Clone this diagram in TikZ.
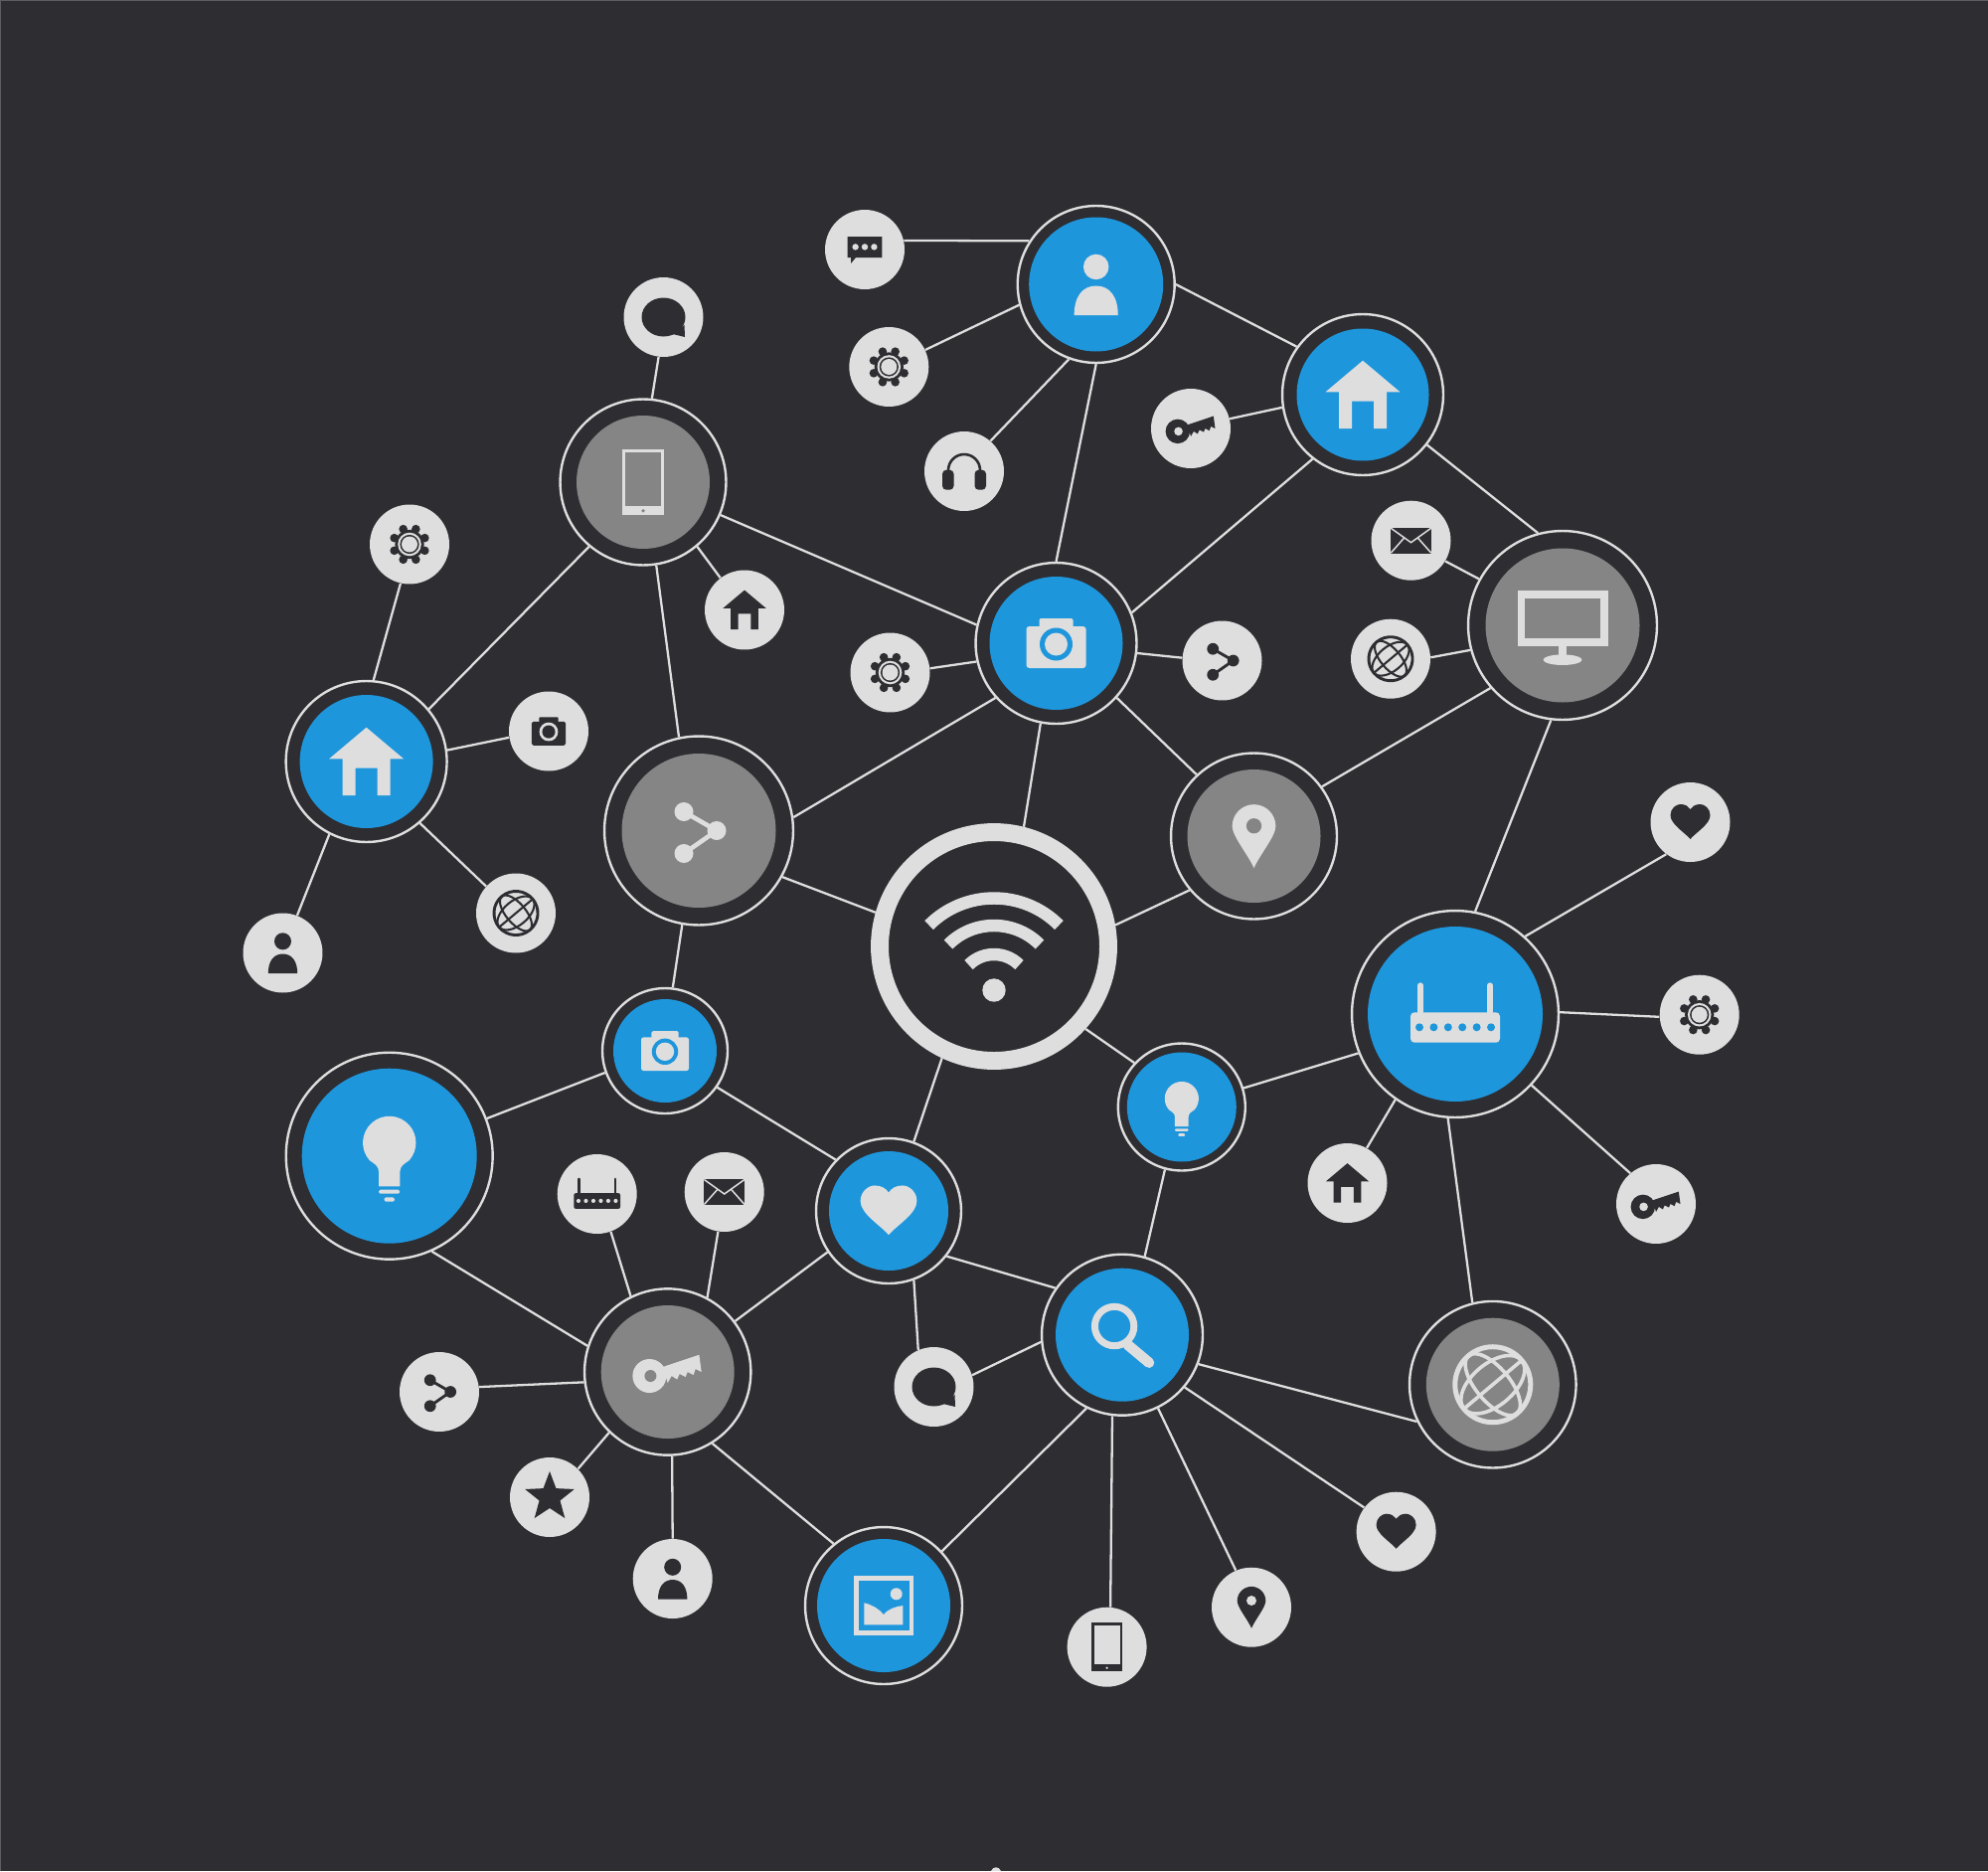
\documentclass[tikz,border=0pt]{standalone}
\usetikzlibrary{shapes.geometric}
\definecolor{ink}{HTML}{2D2D32}
\definecolor{lite}{HTML}{DEDEDE}
\definecolor{azure}{HTML}{1E96DC}
\definecolor{slate}{HTML}{858585}
\definecolor{edgeline}{HTML}{5E5E60}
\def\pxw{0.5669pt}
\tikzset{
  link/.style={draw=lite,line width=2.3*\pxw},
  leaf/.style={circle,fill=lite,inner sep=0pt,minimum size=1.6cm},
  hubring/.style={circle,draw=lite,fill=ink,line width=2.4*\pxw,inner sep=0pt},
  wifiring/.style={circle,draw=lite,fill=ink,line width=18*\pxw,inner sep=0pt,minimum size=4.6cm},
  glyph/.style={yscale=-1,scale=#1}
}
% nodes
\newcommand\leafnode[3]{\node[leaf] (#1) at (#2,#3) {};}
\newcommand\hubnode[6]{\node[hubring,minimum size={(#4-1)*0.04cm}] (#1) at (#2,#3) {};
  \fill[#6] (#2,#3) circle[radius=#5];}
% icons: {x}{y}{scale}{foreground}{background}; local y points up
\newcommand\icPerson[5]{\begin{scope}[shift={(#1,#2)},glyph=#3]
  \fill[#4] (0,11.7) circle[radius=8.5];
  \fill[#4] (-14.7,-20.7) .. controls (-14.7,-8) and (-9,-1) .. (0,-1) .. controls (9,-1) and (14.7,-8) .. (14.7,-20.7) -- cycle;
\end{scope}}
\newcommand\icHouse[5]{\begin{scope}[shift={(#1,#2)},glyph=#3]
  \fill[#4] (0,34.3) -- (37.5,2.7) -- (24,2.7) -- (24,-34) -- (11,-34) -- (11,-6.7) -- (-11,-6.7) -- (-11,-34) -- (-24,-34) -- (-24,2.7) -- (-37.5,2.7) -- cycle;
\end{scope}}
\newcommand\icCamera[5]{\begin{scope}[shift={(#1,#2)},glyph=#3]
  \fill[#4,rounded corners=#3*3*\pxw] (-30,-25) rectangle (30,17);
  \fill[#4,rounded corners=#3*2*\pxw] (-17,10) rectangle (17,25);
  \fill[#5] (0,-1) circle[radius=16.5];
  \fill[#4] (0,-1) circle[radius=11.5];
\end{scope}}
\newcommand\icGear[5]{\begin{scope}[shift={(#1,#2)},glyph=#3]
  \foreach \ang in {0,45,...,315} \fill[#4] (\ang+22.5:16.6) circle[radius=4.3];
  \fill[#4] (0,0) circle[radius=14.6];
  \fill[#5] (0,0) circle[radius=11.8];
  \fill[#4] (0,0) circle[radius=9.6];
  \fill[#5] (0,0) circle[radius=8];
\end{scope}}
\newcommand\icKey[7]{\begin{scope}[shift={(#1,#2)},glyph=#3]
  \fill[#4] (-18.3,-4) circle[radius=#6];
  \fill[#4] (-5,5) -- (31.7,17.3) -- (34,0) -- (28,3) -- (26,-3) -- (20,0) -- (18,-5) -- (12,-2) -- (9.5,-7.5) -- (4,-4) -- (0,-11) -- cycle;
  \fill[#5] (-17.3,-4) circle[radius=#7];
\end{scope}}
\newcommand\icShare[5]{\begin{scope}[shift={(#1,#2)},glyph=#3]
  \draw[#4,line width=#3*4.6*\pxw] (-15,19) -- (18,0) -- (-15,-23);
  \fill[#4] (-15,19) circle[radius=9.5];
  \fill[#4] (18,0) circle[radius=9.5];
  \fill[#4] (-15,-23) circle[radius=9.5];
\end{scope}}
\newcommand\icHeart[5]{\begin{scope}[shift={(#1,#2)},glyph=#3]
  \fill[#4] (0,-17) .. controls (-6,-10) and (-20,-2) .. (-20,7) .. controls (-20,14) and (-14,18) .. (-10,18) .. controls (-5,18) and (-2,16) .. (0,13) .. controls (2,16) and (5,18) .. (10,18) .. controls (14,18) and (20,14) .. (20,7) .. controls (20,-2) and (6,-10) .. (0,-17) -- cycle;
\end{scope}}
\newcommand\icPin[5]{\begin{scope}[shift={(#1,#2)},glyph=#3]
  \fill[#4] (0,-21) .. controls (-4,-12) and (-14.3,0) .. (-14.3,6.5) arc[start angle=180,end angle=0,radius=14.3] .. controls (14.3,0) and (4,-12) .. (0,-21) -- cycle;
  \fill[#5] (0,6.7) circle[radius=5];
\end{scope}}
\newcommand\icPhone[5]{\begin{scope}[shift={(#1,#2)},glyph=#3]
  \fill[#4] (-15.4,-24.3) rectangle (15.4,24.3);
  \fill[#5] (-12.9,-17.7) rectangle (12.9,22);
  \fill[#5] (0,-21) circle[radius=1.3];
\end{scope}}
\newcommand\icMonitor[5]{\begin{scope}[shift={(#1,#2)},glyph=#3]
  \fill[#4] (-45.5,-20.7) rectangle (45.5,34.7);
  \fill[#5] (-37.8,-12.7) rectangle (37.8,27.3);
  \fill[#4] (-3.7,-20.7) rectangle (3.7,-32);
  \fill[#4] (0,-34.7) ellipse[x radius=19.5,y radius=5.3];
\end{scope}}
\newcommand\icRouter[5]{\begin{scope}[shift={(#1,#2)},glyph=#3]
  \draw[#4,line width=#3*5.3*\pxw,line cap=round] (-35,2) -- (-35,29);
  \draw[#4,line width=#3*5.3*\pxw,line cap=round] (35,2) -- (35,29);
  \fill[#4,rounded corners=#3*4*\pxw] (-45,-28.7) rectangle (45,1.7);
  \foreach \dotx in {-36,-21.6,-7.2,7.2,21.6,36} \fill[#5] (\dotx,-13.3) circle[radius=4];
\end{scope}}
\newcommand\icMail[5]{\begin{scope}[shift={(#1,#2)},glyph=#3]
  \fill[#4] (-20.3,-13.2) rectangle (20.3,13.2);
  \draw[#5,line width=#3*1.5*\pxw] (-20.3,12.5) -- (0,-2) -- (20.3,12.5);
  \draw[#5,line width=#3*1.5*\pxw] (-20.3,-12.5) -- (-7,2.5);
  \draw[#5,line width=#3*1.5*\pxw] (20.3,-12.5) -- (7,2.5);
\end{scope}}
\newcommand\icGlobe[5]{\begin{scope}[shift={(#1,#2)},glyph=#3,rotate=-40]
  \draw[#4,line width=#3*5*\pxw] (0,0) circle[radius=38];
  \draw[#4,line width=#3*3.6*\pxw] (-38,0) -- (38,0);
  \draw[#4,line width=#3*3.6*\pxw] (0,0) ellipse[x radius=38,y radius=21];
  \draw[#4,line width=#3*3.6*\pxw] (0,0) ellipse[x radius=17,y radius=38];
\end{scope}}
\newcommand\icBulb[5]{\begin{scope}[shift={(#1,#2)},glyph=#3]
  \fill[#4] (-10.7,-30.7) -- (-10.7,-16) .. controls (-10.7,-10) and (-15,-8) .. (-19.8,-4.6) arc[start angle=222,end angle=-42,radius=26.7] .. controls (15,-8) and (10.7,-10) .. (10.7,-16) -- (10.7,-30.7) -- cycle;
  \fill[#4,rounded corners=#3*1.5*\pxw] (-10.5,-38) rectangle (10.5,-34);
  \fill[#4,rounded corners=#3*1.5*\pxw] (-5.2,-46) rectangle (5.2,-41.7);
\end{scope}}
\newcommand\icSearch[5]{\begin{scope}[shift={(#1,#2)},glyph=#3]
  \draw[#4,line width=#3*10.5*\pxw,line cap=round] (5.5,-10) -- (27,-28);
  \draw[#4,line width=#3*7*\pxw] (-7.9,8.7) circle[radius=19.7];
\end{scope}}
\newcommand\icImage[5]{\begin{scope}[shift={(#1,#2)},glyph=#3]
  \fill[#4] (-30,-29.7) rectangle (30,29.7);
  \fill[#5] (-25.5,-25.2) rectangle (25.5,25.2);
  \fill[#4] (12.7,11.7) circle[radius=6];
  \fill[#4] (-19.7,2.7) .. controls (-12,1) and (-5,-3) .. (0,-9) .. controls (5,-3) and (12,-1) .. (19.3,0) -- (19.3,-19.3) -- (-19.7,-19.3) -- cycle;
\end{scope}}
\newcommand\icDots[5]{\begin{scope}[shift={(#1,#2)},glyph=#3]
  \fill[#4] (-17.4,13) -- (17.4,13) -- (17.4,-8) -- (-9,-8) -- (-14,-14) -- (-14,-8) -- (-17.4,-8) -- cycle;
  \foreach \dotx in {-9.4,0,9.4} \fill[#5] (\dotx,2.6) circle[radius=3.2];
\end{scope}}
\newcommand\icRing[5]{\begin{scope}[shift={(#1,#2)},glyph=#3]
  \fill[#4] (0,0) ellipse[x radius=22,y radius=19.5];
  \fill[#4] (21,-8) -- (21.5,-20) -- (9,-17) -- cycle;
\end{scope}}
\newcommand\icPhones[5]{\begin{scope}[shift={(#1,#2)},glyph=#3]
  \draw[#4,line width=#3*2.6*\pxw] (-16,1) arc[start angle=180,end angle=0,radius=16];
  \fill[#4,rounded corners=#3*4*\pxw] (-22,-18.7) rectangle (-10.5,1.3);
  \fill[#4,rounded corners=#3*4*\pxw] (10.5,-18.7) rectangle (22,1.3);
\end{scope}}
\newcommand\icStar[5]{\begin{scope}[shift={(#1,#2)},glyph=#3]
  \fill[#4] (90:26) -- (126:11) -- (162:26) -- (198:11) -- (234:26) -- (270:11) -- (306:26) -- (342:11) -- (18:26) -- (54:11) -- cycle;
\end{scope}}
\newcommand\icWifi[2]{\begin{scope}[shift={(#1,#2)},glyph=1]
  \fill[lite] (0,-44) circle[radius=11.7];
  \foreach \rad in {36,65,92.5}
    \draw[lite,line width=12.5*\pxw] ([shift={(45:\rad)}]0,-44) arc[start angle=45,end angle=135,radius=\rad];
\end{scope}}
\begin{document}
\begin{tikzpicture}[x=0.02cm,y=-0.02cm]
\useasboundingbox (0,0) rectangle (2000,1882);
\fill[ink] (0,0) rectangle (2000,1882);
\draw[edgeline,line width=2.4*\pxw] (0,1882) -- (0,0) -- (2000,0);
\fill[lite] (997,1882) .. controls (999,1877) and (1005,1877) .. (1007,1882) -- cycle;
% hubs
\node[wifiring] (wifi) at (1000,952) {};
\hubnode{person}{1102.7}{286}{80}{67.5}{azure}
\hubnode{houseR}{1371}{397}{82}{66.5}{azure}
\hubnode{cam}{1062.5}{647}{82}{67}{azure}
\hubnode{monitor}{1572}{629}{96}{77.5}{slate}
\hubnode{pinhub}{1261.5}{841}{84.5}{67}{slate}
\hubnode{sharehub}{703}{835.5}{96}{77.5}{slate}
\hubnode{phonehub}{647}{485}{84.5}{67}{slate}
\hubnode{houseL}{368.6}{766}{82}{67}{azure}
\hubnode{camsm}{669}{1057}{64}{52}{azure}
\hubnode{bulbbig}{391.7}{1162.7}{105}{88}{azure}
\hubnode{bulbsm}{1188.8}{1113.5}{65}{55}{azure}
\hubnode{router}{1464}{1020}{105}{88}{azure}
\hubnode{hearthub}{894}{1218}{74}{60}{azure}
\hubnode{keyhub}{671.7}{1380}{84.7}{67}{slate}
\hubnode{imagehub}{889}{1615}{80}{67}{azure}
\hubnode{searchhub}{1129}{1342.7}{82}{67}{azure}
\hubnode{globehub}{1501.8}{1392.7}{84.8}{67}{slate}
% leaves
\leafnode{dotsA}{870}{251}
\leafnode{gearA}{894.3}{369}
\leafnode{phonesA}{970}{474}
\leafnode{keyA}{1198}{431}
\leafnode{mailA}{1419.5}{543.7}
\leafnode{globeA}{1399}{662.7}
\leafnode{shareA}{1229.5}{664.5}
\leafnode{gearB}{895.5}{676.5}
\leafnode{ringA}{667.5}{319}
\leafnode{gearC}{412}{547.5}
\leafnode{homeA}{749}{613.5}
\leafnode{camA}{552}{735.5}
\leafnode{globeB}{519}{918.5}
\leafnode{personA}{284.5}{958.5}
\leafnode{heartA}{1700.5}{827}
\leafnode{gearD}{1709.7}{1020.7}
\leafnode{keyB}{1666}{1211}
\leafnode{homeB}{1355.5}{1190}
\leafnode{routerA}{600.7}{1201}
\leafnode{mailB}{728.7}{1199}
\leafnode{ringB}{939.5}{1395}
\leafnode{personB}{676.7}{1588}
\leafnode{starA}{553}{1506}
\leafnode{shareB}{442}{1400}
\leafnode{heartB}{1404.6}{1540.7}
\leafnode{pinA}{1259}{1616.7}
\leafnode{phoneA}{1113.6}{1656.7}
% connectors
\draw[link] (dotsA.13) -- (person.147);
\draw[link] (gearA.25) -- (person.195);
\draw[link] (phonesA.49) -- (person.250);
\draw[link] (person.270) -- (cam.90);
\draw[link] (person.0) -- (houseR.144);
\draw[link] (keyA.14) -- (houseR.189);
\draw[link] (cam.22) -- (houseR.232);
\draw[link] (houseR.322) -- (monitor.105);
\draw[link] (mailA.329) -- (monitor.151);
\draw[link] (globeA.2) -- (monitor.195);
\draw[link] (cam.353) -- (shareA.176);
\draw[link] (gearB.6) -- (cam.193);
\draw[link] (phonehub.337) -- (cam.167);
\draw[link] (ringA.263) -- (phonehub.84);
\draw[link] (phonehub.310) -- (homeA.127);
\draw[link] (phonehub.279) -- (sharehub.102);
\draw[link] (phonehub.230) -- (houseL.40);
\draw[link] (gearC.257) -- (houseL.85);
\draw[link] (houseL.8) -- (camA.189);
\draw[link] (houseL.311) -- (globeB.138);
\draw[link] (houseL.243) -- (personA.69);
\draw[link] (sharehub.8) -- (cam.222);
\draw[link] (sharehub.331) -- (wifi.164);
\draw[link] (sharehub.260) -- (camsm.83);
\draw[link] (cam.259) -- (wifi.76);
\draw[link] (cam.318) -- (pinhub.133);
\draw[link] (pinhub.36) -- (monitor.221);
\draw[link] (wifi.10) -- (pinhub.220);
\draw[link] (monitor.263) -- (router.79);
\draw[link] (router.48) -- (heartA.233);
\draw[link] (router.1) -- (gearD.183);
\draw[link] (router.317) -- (keyB.130);
\draw[link] (router.235) -- (homeB.61);
\draw[link] (router.202) -- (bulbsm.17);
\draw[link] (router.266) -- (globehub.104);
\draw[link] (wifi.318) -- (bulbsm.137);
\draw[link] (wifi.245) -- (hearthub.70);
\draw[link] (bulbsm.255) -- (searchhub.74);
\draw[link] (camsm.200) -- (bulbbig.21);
\draw[link] (camsm.325) -- (hearthub.136);
\draw[link] (bulbbig.294) -- (keyhub.162);
\draw[link] (routerA.290) -- (keyhub.116);
\draw[link] (mailB.261) -- (keyhub.62);
\draw[link] (hearthub.214) -- (keyhub.37);
\draw[link] (hearthub.322) -- (searchhub.145);
\draw[link] (hearthub.290) -- (ringB.113);
\draw[link] (ringB.17) -- (searchhub.185);
\draw[link] (shareB.7) -- (keyhub.187);
\draw[link] (starA.45) -- (keyhub.226);
\draw[link] (personB.90) -- (keyhub.273);
\draw[link] (keyhub.302) -- (imagehub.129);
\draw[link] (imagehub.43) -- (searchhub.244);
\draw[link] (searchhub.263) -- (phoneA.85);
\draw[link] (searchhub.296) -- (pinA.113);
\draw[link] (searchhub.320) -- (heartB.143);
\draw[link] (searchhub.339) -- (globehub.206);
% icons
\icWifi{1000}{952}
\icPerson{1102.7}{286}{1.5}{lite}{azure}
\icHouse{1371}{397}{1}{lite}{azure}
\icCamera{1062.5}{647}{1}{lite}{azure}
\icMonitor{1572}{629}{1}{lite}{slate}
\icPin{1261.5}{841}{1.53}{lite}{slate}
\icShare{703}{835.5}{1}{lite}{slate}
\icPhone{647}{485}{1.37}{lite}{slate}
\icHouse{368.6}{766}{1}{lite}{azure}
\icCamera{669}{1057}{0.8}{lite}{azure}
\icBulb{391.7}{1162.7}{1}{lite}{azure}
\icBulb{1188.8}{1113.5}{0.64}{lite}{azure}
\icRouter{1464}{1020}{1}{lite}{azure}
\icHeart{894}{1218}{1.42}{lite}{azure}
\icKey{671.7}{1380}{1}{lite}{slate}{17}{6}
\icImage{889}{1615}{1}{lite}{azure}
\icSearch{1129}{1342.7}{1}{lite}{azure}
\icGlobe{1501.8}{1392.7}{1}{lite}{slate}
\icDots{870}{251}{1}{ink}{lite}
\icGear{894.3}{369}{1}{ink}{lite}
\icPhones{970}{474}{1}{ink}{lite}
\icKey{1198}{431}{0.72}{ink}{lite}{17}{6}
\icMail{1419.5}{543.7}{1}{ink}{lite}
\icGlobe{1399}{662.7}{0.58}{ink}{lite}
\icShare{1229.5}{664.5}{0.62}{ink}{lite}
\icGear{895.5}{676.5}{1}{ink}{lite}
\icRing{667.5}{319}{1}{ink}{lite}
\icGear{412}{547.5}{1}{ink}{lite}
\icHouse{749}{613.5}{0.58}{ink}{lite}
\icCamera{552}{735.5}{0.57}{ink}{lite}
\icGlobe{519}{918.5}{0.58}{ink}{lite}
\icPerson{284.5}{958.5}{1}{ink}{lite}
\icHeart{1700.5}{827}{1}{ink}{lite}
\icGear{1709.7}{1020.7}{1}{ink}{lite}
\icKey{1666}{1211}{0.72}{ink}{lite}{17}{6}
\icHouse{1355.5}{1190}{0.58}{ink}{lite}
\icRouter{600.7}{1201}{0.52}{ink}{lite}
\icMail{728.7}{1199}{1}{ink}{lite}
\icRing{939.5}{1395}{1}{ink}{lite}
\icPerson{676.7}{1588}{1}{ink}{lite}
\icStar{553}{1506}{1}{ink}{lite}
\icShare{442}{1400}{0.62}{ink}{lite}
\icHeart{1404.6}{1540.7}{1}{ink}{lite}
\icPin{1259}{1616.7}{1}{ink}{lite}
\icPhone{1113.6}{1656.7}{1}{ink}{lite}
\end{tikzpicture}
\end{document}
